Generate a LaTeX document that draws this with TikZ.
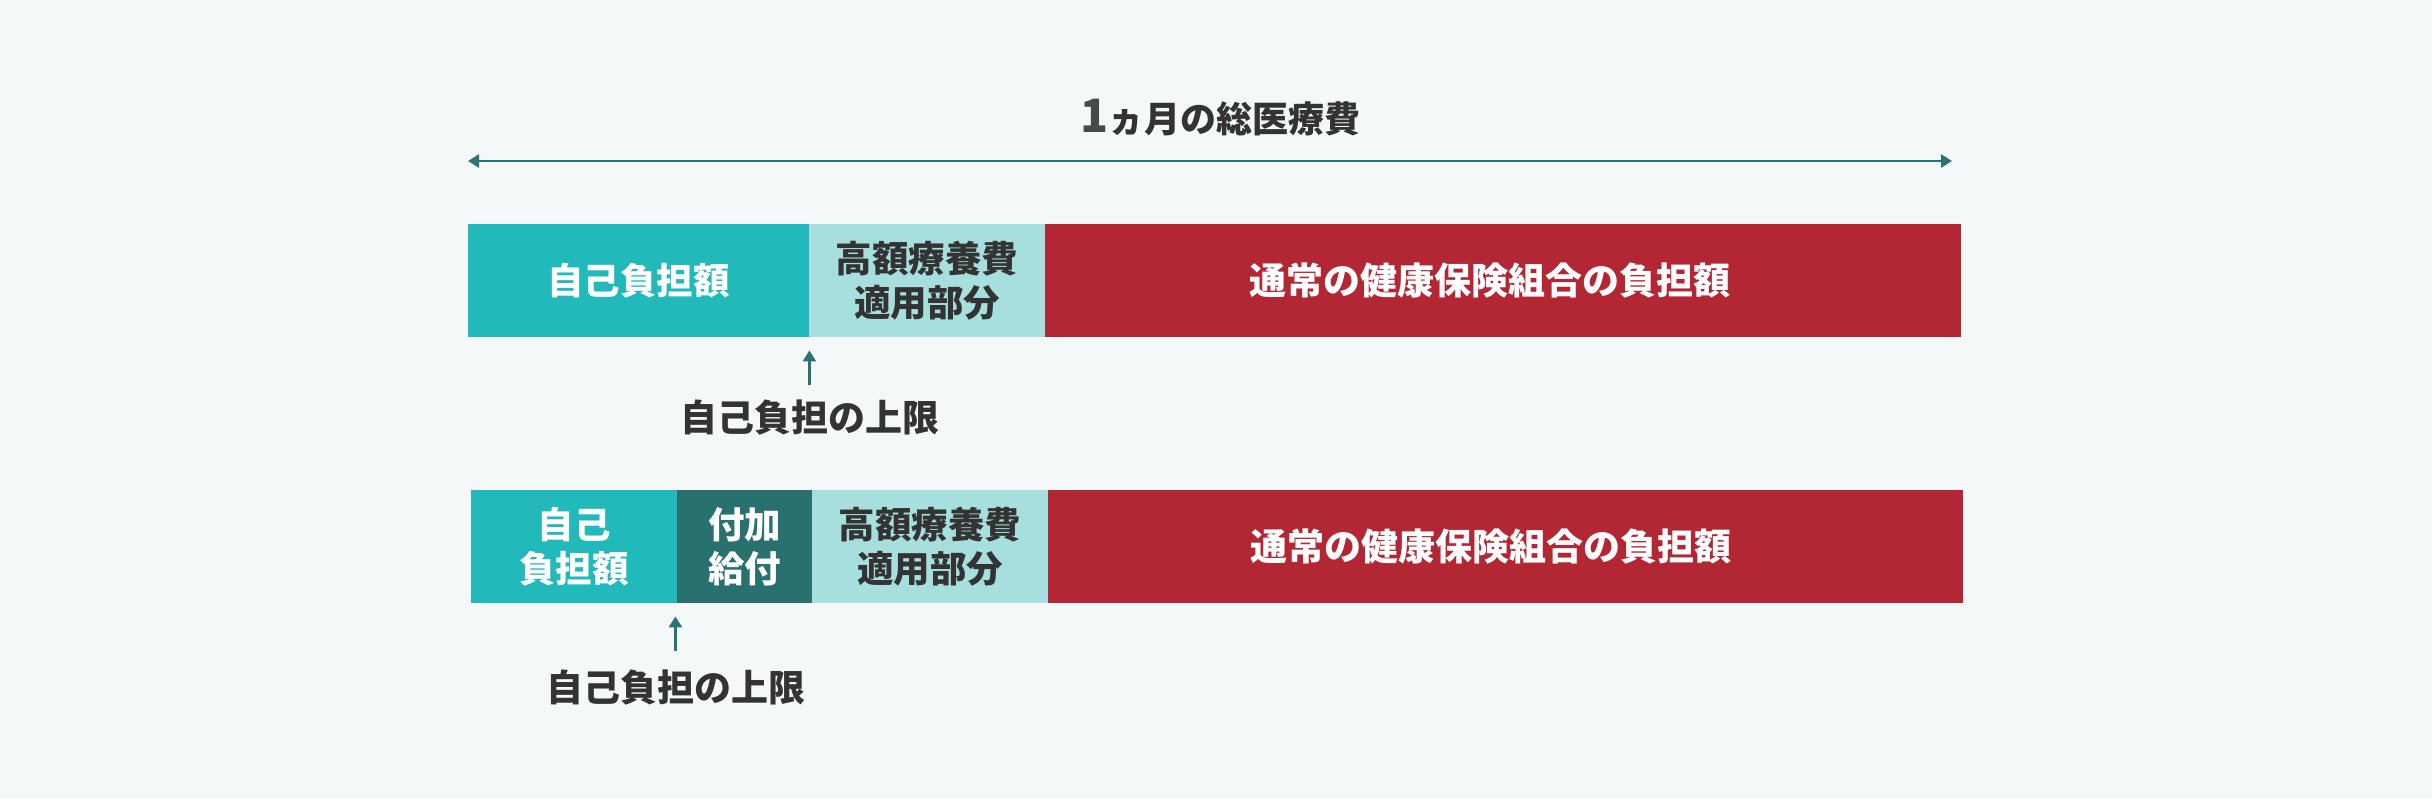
\documentclass[tikz,border=0pt]{standalone}
\usepackage{fontspec}
\setmainfont{Noto Sans CJK JP}
\usetikzlibrary{arrows.meta}
\definecolor{bg}{HTML}{F4F8F9}
\definecolor{tealA}{HTML}{21B9BA}
\definecolor{tealL}{HTML}{A7DFDF}
\definecolor{tealD}{HTML}{28716F}
\definecolor{redA}{HTML}{B32735}
\definecolor{arr}{HTML}{2B7371}
\definecolor{ink}{HTML}{333333}
\tikzset{
  seg/.style={rectangle, inner sep=0pt, anchor=north west, minimum height=113pt, align=center,
    font=\fontsize{36.5}{44}\selectfont\bfseries},
  wtxt/.style={text=white},
  dtxt/.style={text=ink},
  lbl/.style={inner sep=0pt, text=ink, font=\fontsize{37}{44}\selectfont\bfseries},
  conn/.style={draw=arr, line width=2.5pt, -{Triangle[length=11pt,width=13pt]}},
  span/.style={draw=arr, line width=2.5pt, {Triangle[length=11pt,width=13pt]}-{Triangle[length=11pt,width=13pt]}}
}
\begin{document}
\begin{tikzpicture}[x=1pt,y=-1pt]
\fill[bg] (0,0) rectangle (2432,798);
\useasboundingbox (0,0) rectangle (2432,798);

% title
\node[anchor=base west, inner sep=0pt, text=ink, font=\fontsize{36}{40}\selectfont\bfseries] (title) at (1080,132)
  {{\color[HTML]{454A4B}\fontsize{46}{48}\selectfont 1}ヵ月の総医療費};
\coordinate (L) at (468,161);
\coordinate (R) at (1952,161);
\draw[span] (L) -- (R);

% bar 1
\node[seg, fill=tealA, wtxt, minimum width=341pt] (a1) at (468,224) {自己負担額};
\node[seg, fill=tealL, dtxt, minimum width=236pt] (b1) at (809,224) {高額療養費\\適用部分};
\node[seg, fill=redA, minimum width=916pt] (c1) at (1045,224) {};
\node[text=white, inner sep=0pt, font=\fontsize{37}{44}\selectfont\bfseries] (t1) at ([xshift=-13pt]c1.center) {通常の健康保険組合の負担額};

\node[lbl] (l1) at (810,418) {自己負担の上限};
\draw[conn] ([yshift=-48pt]a1.south east) -- ([yshift=-13pt]a1.south east);

% bar 2
\node[seg, fill=tealA, wtxt, minimum width=206pt] (a2) at (471,490) {自己\\負担額};
\node[seg, fill=tealD, wtxt, minimum width=135pt] (d2) at (677,490) {付加\\給付};
\node[seg, fill=tealL, dtxt, minimum width=236pt] (b2) at (812,490) {高額療養費\\適用部分};
\node[seg, fill=redA, minimum width=915pt] (c2) at (1048,490) {};
\node[text=white, inner sep=0pt, font=\fontsize{37}{44}\selectfont\bfseries] (t2) at ([xshift=-15pt]c2.center) {通常の健康保険組合の負担額};

\node[lbl] (l2) at (676,688) {自己負担の上限};
\draw[conn] ([xshift=-2pt,yshift=-48pt]a2.south east) -- ([xshift=-2pt,yshift=-13pt]a2.south east);
\end{tikzpicture}
\end{document}
